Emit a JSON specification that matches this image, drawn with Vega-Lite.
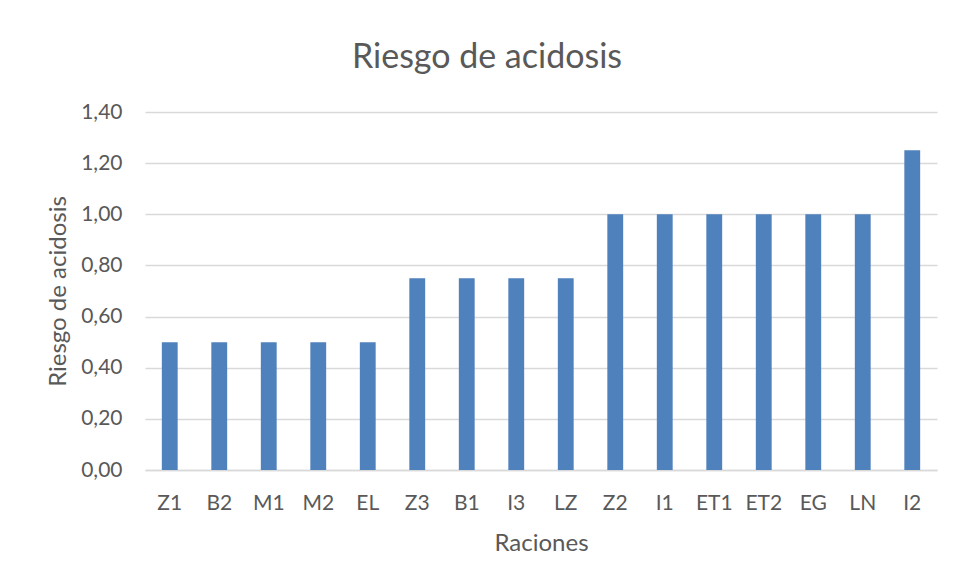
{
  "$schema": "https://vega.github.io/schema/vega-lite/v6.json",
  "width": 792,
  "height": 358,
  "autosize": {"type": "none"},
  "padding": {"left": 145, "top": 112, "right": 18, "bottom": 109},
  "background": "white",
  "title": {"text": "Riesgo de acidosis", "fontSize": 34, "font": "Lato", "fontWeight": "normal", "color": "#595959", "offset": 26, "anchor": "middle", "dx": -54},
  "data": {"values": [
    {"racion": "Z1", "riesgo": 0.5},
    {"racion": "B2", "riesgo": 0.5},
    {"racion": "M1", "riesgo": 0.5},
    {"racion": "M2", "riesgo": 0.5},
    {"racion": "EL", "riesgo": 0.5},
    {"racion": "Z3", "riesgo": 0.75},
    {"racion": "B1", "riesgo": 0.75},
    {"racion": "I3", "riesgo": 0.75},
    {"racion": "LZ", "riesgo": 0.75},
    {"racion": "Z2", "riesgo": 1.0},
    {"racion": "I1", "riesgo": 1.0},
    {"racion": "ET1", "riesgo": 1.0},
    {"racion": "ET2", "riesgo": 1.0},
    {"racion": "EG", "riesgo": 1.0},
    {"racion": "LN", "riesgo": 1.0},
    {"racion": "I2", "riesgo": 1.25}
  ]},
  "mark": {"type": "bar", "color": "#4f81bd"},
  "encoding": {
    "x": {"field": "racion", "type": "nominal", "sort": null, "title": "Raciones",
      "scale": {"paddingInner": 0.68, "paddingOuter": 0.34},
      "axis": {"labelAngle": 0, "ticks": false, "domainColor": "#d9d9d9", "domainWidth": 1.3, "labelPadding": 22, "titlePadding": 18}},
    "y": {"field": "riesgo", "type": "quantitative", "title": "Riesgo de acidosis",
      "scale": {"domain": [0, 1.4], "nice": false},
      "axis": {"values": [0, 0.2, 0.4, 0.6, 0.8, 1.0, 1.2, 1.4], "format": ".2f", "labelExpr": "replace(datum.label, '.', ',')", "ticks": false, "domain": false, "gridColor": "#d9d9d9", "gridWidth": 1.3, "labelPadding": 23, "titlePadding": 10}}
  },
  "config": {
    "view": {"stroke": null},
    "axis": {"labelFont": "Lato", "labelFontSize": 21, "labelColor": "#595959", "titleFont": "Lato", "titleFontSize": 24, "titleFontWeight": "normal", "titleColor": "#595959"}
  }
}
